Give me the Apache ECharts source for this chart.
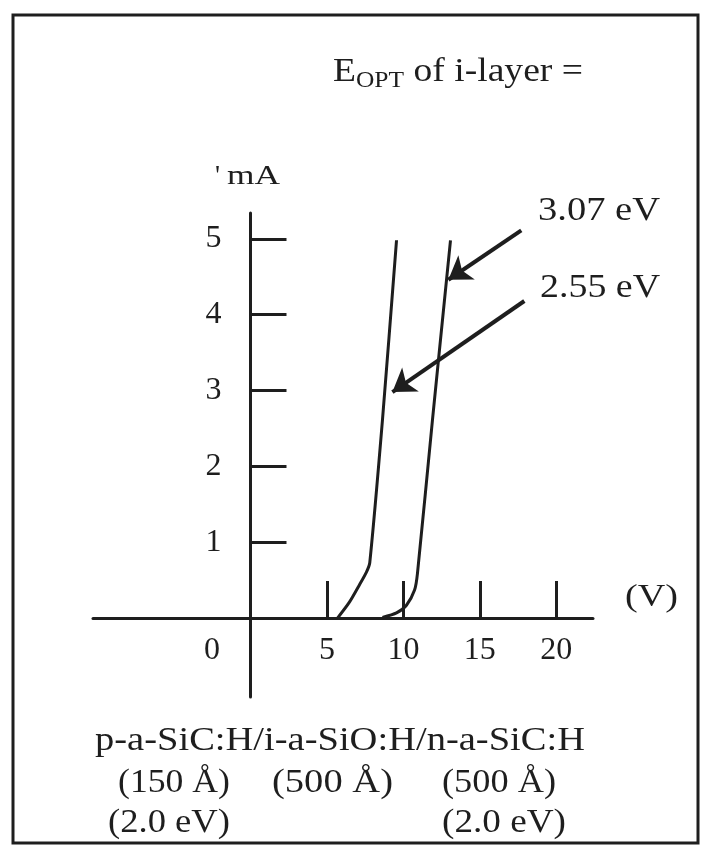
<!DOCTYPE html>
<html><head><meta charset="utf-8">
<script src="https://cdn.jsdelivr.net/npm/echarts@6/dist/echarts.min.js"></script>
<style>html,body{margin:0;padding:0;background:#fff}#c{width:706px;height:850px}</style>
</head><body><div id="c"></div>
<script>
// ---- data ----
const curve255 = [[5.69,0],[6.47,0.21],[7.13,0.44],[7.59,0.61],[7.8,0.73],[8.63,2.61],[9.55,4.98]];
const curve307 = [[8.63,0.01],[9.55,0.07],[10.2,0.17],[10.73,0.37],[10.92,0.59],[11.9,2.61],[13.08,4.98]];
const xTicks = [5,10,15,20];
const yTicks = [1,2,3,4,5];
const xRange = [-10.3, 22.4];
const yRange = [-1.04, 5.34];
const arrow307 = [[17.71,5.11],[12.94,4.46]];
const arrow255 = [[17.91,4.18],[9.28,2.98]];
const seriesNames = ['2.55 eV','3.07 eV'];
const titleParts = ['E','OPT',' of i-layer ='];
const yUnit = ["'",'mA'];
const xUnit = '(V)';
const zeroLabel = '0';
const layerLine = 'p-a-SiC:H/i-a-SiO:H/n-a-SiC:H';
const thickLine = ['(150 \u00C5)','(500 \u00C5)','(500 \u00C5)'];
const gapLine = ['(2.0 eV)','(2.0 eV)'];

// ---- helpers ----
const FONT = '"Liberation Serif","Times New Roman",serif';
const INK = '#1e1e1e';
const cv = document.createElement('canvas').getContext('2d');
function mw(t, s){ cv.font = s + 'px ' + FONT; return cv.measureText(t).width; }
function txt(t, x, y, size, width, align){
  const w = mw(t, size);
  const sx = width ? width / w : 1;
  return {type:'text', x:x, y:y, scaleX:sx, silent:true, z:10,
    style:{text:t, font:size+'px '+FONT, fill:INK, align:align||'left', verticalAlign:'middle'}};
}

// grid geometry
const G = {left:93, right:113, top:213, bottom:153, W:706, H:850};
const gw = G.W - G.left - G.right, gh = G.H - G.top - G.bottom;
const xZeroOffset = gw * (0 - xRange[0]) / (xRange[1] - xRange[0]);   // px from grid left to x=0
const yZeroOffset = gh * (0 - yRange[0]) / (yRange[1] - yRange[0]);   // px from grid bottom to y=0

const graphics = [];
graphics.push({type:'rect', shape:{x:13,y:15,width:685,height:828}, style:{fill:'none',stroke:INK,lineWidth:3}, silent:true});
(function(){
  const s1=34, s2=23;
  const w1=mw(titleParts[0],s1), w2=mw(titleParts[1],s2), w3=mw(titleParts[2],s1);
  const k = 250/(w1+w2+w3);
  const x0 = 333, y0 = 72;
  graphics.push(txt(titleParts[0], x0, y0, s1, w1*k));
  graphics.push(txt(titleParts[1], x0+w1*k, y0+9, s2, w2*k));
  graphics.push(txt(titleParts[2], x0+(w1+w2)*k, y0, s1, w3*k));
})();
graphics.push(txt(yUnit[0], 215, 177, 28));
graphics.push(txt(yUnit[1], 227, 177, 28, 53));
graphics.push(txt(seriesNames[1], 538, 211, 34, 122));
graphics.push(txt(seriesNames[0], 540, 288, 34, 120));
graphics.push(txt(xUnit, 625, 598, 32, 53));
graphics.push(txt(zeroLabel, 212, 651, 32, null, 'center'));
graphics.push(txt(layerLine, 95, 741, 34, 490));
graphics.push(txt(thickLine[0], 118, 783, 34, 112));
graphics.push(txt(thickLine[1], 272, 783, 34, 121));
graphics.push(txt(thickLine[2], 442, 783, 34, 114));
graphics.push(txt(gapLine[0], 108, 823, 34, 122));
graphics.push(txt(gapLine[1], 442, 823, 34, 124));

const axisLine = {show:true, onZero:false, lineStyle:{color:INK, width:3, cap:'round'}};
const chart = echarts.init(document.getElementById('c'), null, {renderer:'canvas'});
chart.setOption({
  backgroundColor:'#fff',
  animation:false,
  grid:{left:G.left, right:G.right, top:G.top, bottom:G.bottom, containLabel:false},
  xAxis:{type:'value', min:xRange[0], max:xRange[1], position:'bottom', offset:-yZeroOffset,
    axisLine:axisLine,
    axisTick:{show:true, inside:true, length:37, customValues:xTicks, lineStyle:{color:INK,width:3}},
    axisLabel:{show:true, customValues:xTicks, margin:16, fontSize:32, lineHeight:32, fontFamily:FONT, color:INK},
    splitLine:{show:false}},
  yAxis:{type:'value', min:yRange[0], max:yRange[1], position:'left', offset:-xZeroOffset,
    axisLine:axisLine,
    axisTick:{show:true, inside:true, length:36, customValues:yTicks, lineStyle:{color:INK,width:3}},
    axisLabel:{show:true, customValues:yTicks, margin:29, fontSize:32, fontFamily:FONT, color:INK},
    splitLine:{show:false}},
  series:[
    {name:seriesNames[0], type:'line', data:curve255, showSymbol:false, smooth:0.25,
     lineStyle:{color:INK, width:3}, silent:true,
     markLine:{silent:true, symbol:['none','arrow'], symbolSize:22, label:{show:false},
       lineStyle:{color:INK, width:4, type:'solid'},
       data:[
         [{coord:arrow307[0]},{coord:arrow307[1]}],
         [{coord:arrow255[0]},{coord:arrow255[1]}]
       ]}},
    {name:seriesNames[1], type:'line', data:curve307, showSymbol:false, smooth:0.25,
     lineStyle:{color:INK, width:3}, silent:true}
  ],
  graphic:graphics
});
</script></body></html>
